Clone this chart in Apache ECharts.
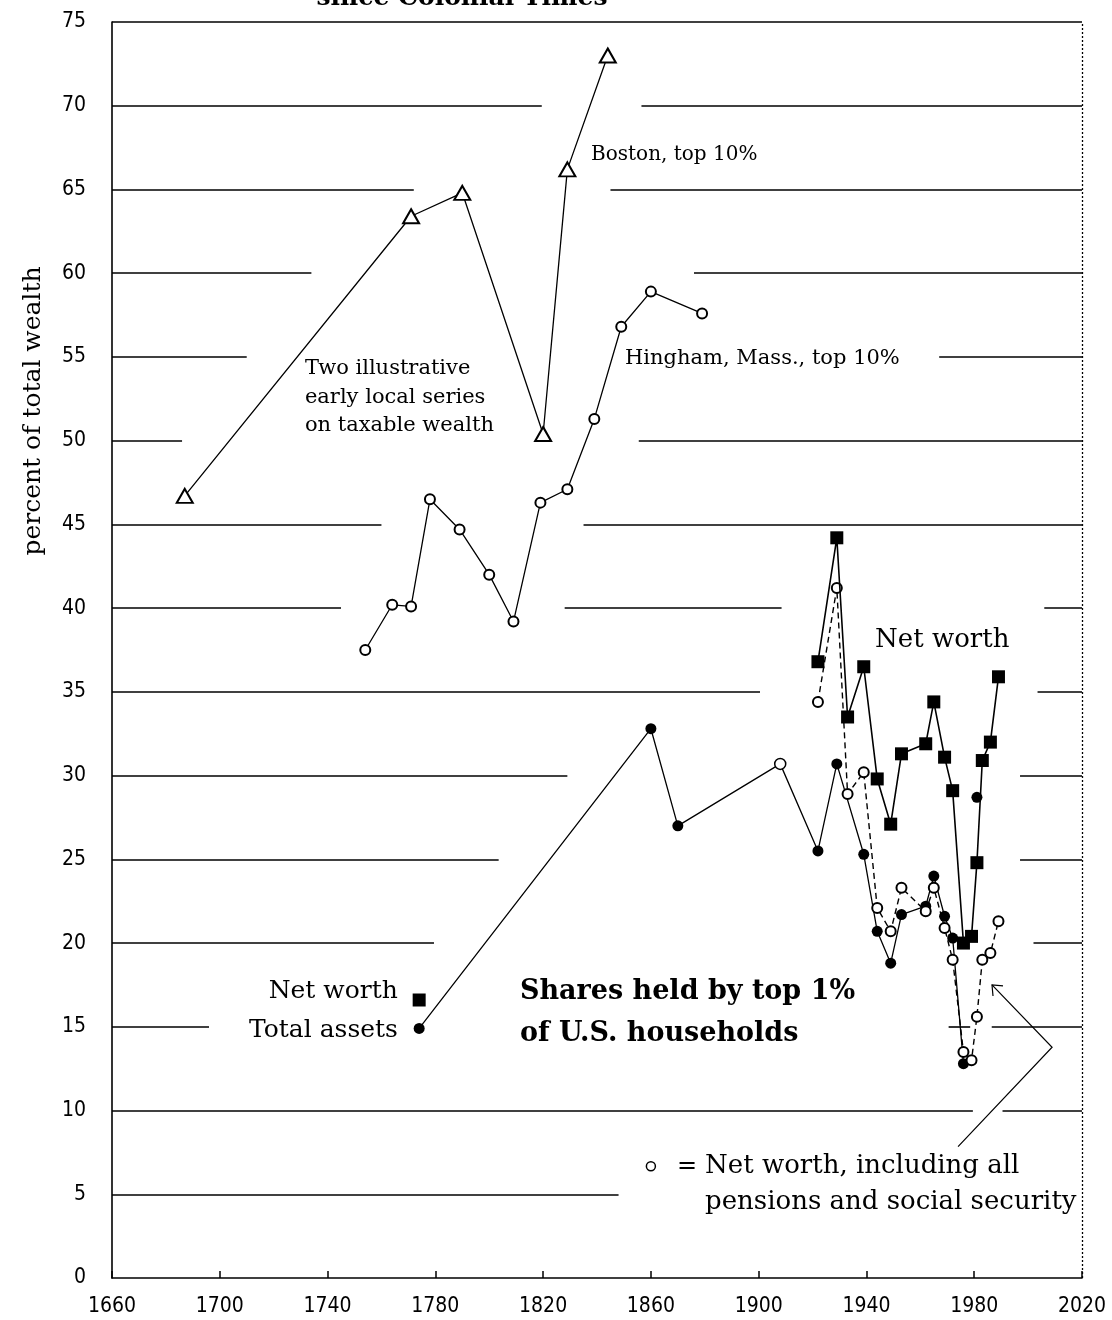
<!DOCTYPE html>
<html><head><meta charset="utf-8">
<script src="https://cdn.jsdelivr.net/npm/echarts/dist/echarts.min.js"></script>
<style>html,body{margin:0;padding:0;background:#fff}#c{width:1112px;height:1320px}</style>
</head><body><div id="c"></div>
<script>
// ---- data ----
const xTicks = [1660, 1700, 1740, 1780, 1820, 1860, 1900, 1940, 1980, 2020];
const yTicks = [0, 5, 10, 15, 20, 25, 30, 35, 40, 45, 50, 55, 60, 65, 70, 75];

const bostonYears = [1687, 1771, 1790, 1820, 1829, 1844];
const bostonTop10 = [46.7, 63.4, 64.8, 50.4, 66.2, 73.0];

const hinghamYears = [1754, 1764, 1771, 1778, 1789, 1800, 1809, 1819, 1829, 1839, 1849, 1860, 1879];
const hinghamTop10 = [37.5, 40.2, 40.1, 46.5, 44.7, 42.0, 39.2, 46.3, 47.1, 51.3, 56.8, 58.9, 57.6];

const colonialYear = 1774;
const colonialNetWorth = 16.6;

const netWorthYears = [1922, 1929, 1933, 1939, 1944, 1949, 1953, 1962, 1965, 1969, 1972, 1976, 1979, 1981, 1983, 1986, 1989];
const netWorthTop1 = [36.8, 44.2, 33.5, 36.5, 29.8, 27.1, 31.3, 31.9, 34.4, 31.1, 29.1, 20.0, 20.4, 24.8, 30.9, 32.0, 35.9];

const assetsYears = [1774, 1860, 1870, 1908, 1922, 1929, 1939, 1944, 1949, 1953, 1962, 1965, 1969, 1972, 1976];
const assetsTop1 = [14.9, 32.8, 27.0, 30.7, 25.5, 30.7, 25.3, 20.7, 18.8, 21.7, 22.2, 24.0, 21.6, 20.3, 12.8];
const assetsOpenYear = 1908;      // drawn with a hollow marker
const assetsLoneYear = 1981;
const assetsLoneValue = 28.7;

const pensionYears = [1922, 1929, 1933, 1939, 1944, 1949, 1953, 1962, 1965, 1969, 1972, 1976, 1979, 1981, 1983, 1986, 1989];
const pensionTop1 = [34.4, 41.2, 28.9, 30.2, 22.1, 20.7, 23.3, 21.9, 23.3, 20.9, 19.0, 13.5, 13.0, 15.6, 19.0, 19.4, 21.3];

// horizontal rules: [level, fromYear, toYear] (the picture breaks them around labels and data)
const ruleSegments = [
  [75, 1660, 2020],
  [70, 1660, 1819.5], [70, 1856.5, 2020],
  [65, 1660, 1772], [65, 1845, 2020],
  [60, 1660, 1734], [60, 1876, 2020],
  [55, 1660, 1710], [55, 1967, 2020],
  [50, 1660, 1686], [50, 1855.5, 2020],
  [45, 1660, 1760], [45, 1835, 2020],
  [40, 1660, 1745], [40, 1828, 1908.5], [40, 2006, 2020],
  [35, 1660, 1900.5], [35, 2003.5, 2020],
  [30, 1660, 1829], [30, 1997, 2020],
  [25, 1660, 1803.5], [25, 1997, 2020],
  [20, 1660, 1779.5], [20, 2002, 2020],
  [15, 1660, 1696], [15, 1970.5, 1978.5], [15, 1986.5, 2020],
  [10, 1660, 1979.5], [10, 1990.5, 2020],
  [5, 1660, 1848]
];

// ---- build ----
const zip = (xs, ys) => xs.map((x, i) => [x, ys[i]]);
const serif = '"DejaVu Serif", "Liberation Serif", serif';
const narrow = '"Liberation Sans Narrow", "DejaVu Sans Condensed", sans-serif';
const BLACK = '#000';

const assetsData = zip(assetsYears, assetsTop1).map(p => p[0] === assetsOpenYear
  ? { value: p, itemStyle: { color: '#fff', borderColor: BLACK, borderWidth: 1.5 } }
  : p);
assetsData.push('-', [assetsLoneYear, assetsLoneValue]);

const netWorthData = [[colonialYear, colonialNetWorth], '-'].concat(zip(netWorthYears, netWorthTop1));

const ruleLines = ruleSegments.map(s => [{ coord: [s[1], s[0]] }, { coord: [s[2], s[0]] }]);
ruleLines.push([{ coord: [2020, 0], lineStyle: { type: [2, 2], width: 1.3 } }, { coord: [2020, 75] }]);

const chart = echarts.init(document.getElementById('c'), null, { renderer: 'canvas' });

const option = {
  animation: false,
  backgroundColor: '#fff',
  grid: { left: 112, right: 30, top: 22, bottom: 42 },
  xAxis: {
    type: 'value', min: xTicks[0], max: xTicks[xTicks.length - 1], interval: 40,
    axisLine: { show: true, onZero: false, lineStyle: { color: BLACK, width: 1.6 } },
    axisTick: { show: true, inside: true, length: 7, lineStyle: { color: BLACK, width: 1.5 } },
    axisLabel: { color: BLACK, fontSize: 21, margin: 18, fontFamily: narrow, formatter: v => String(v) },
    splitLine: { show: false }
  },
  yAxis: {
    type: 'value', min: yTicks[0], max: yTicks[yTicks.length - 1], interval: 5,
    axisLine: { show: true, lineStyle: { color: BLACK, width: 1.6 } },
    axisTick: { show: false },
    axisLabel: { color: BLACK, fontSize: 21, margin: 26, fontFamily: narrow, formatter: v => String(v) },
    splitLine: { show: false }
  },
  series: [
    {
      type: 'line', data: [], z: 1, silent: true,
      markLine: { silent: true, symbol: 'none', label: { show: false },
        lineStyle: { color: BLACK, width: 1.6, type: 'solid' }, data: ruleLines }
    },
    {
      name: 'Boston, top 10%', type: 'line', z: 3, data: zip(bostonYears, bostonTop10),
      symbol: 'emptyTriangle', symbolSize: [16, 14],
      lineStyle: { color: BLACK, width: 1.3 }, itemStyle: { color: BLACK, borderWidth: 1.6 }
    },
    {
      name: 'Hingham, Mass., top 10%', type: 'line', z: 3, data: zip(hinghamYears, hinghamTop10),
      symbol: 'emptyCircle', symbolSize: 10,
      lineStyle: { color: BLACK, width: 1.3 }, itemStyle: { color: BLACK, borderWidth: 1.5 }
    },
    {
      name: 'Total assets', type: 'line', z: 3, data: assetsData, connectNulls: false,
      symbol: 'circle', symbolSize: 11,
      lineStyle: { color: BLACK, width: 1.3 }, itemStyle: { color: BLACK }
    },
    {
      name: 'Net worth incl. pensions', type: 'line', z: 4, data: zip(pensionYears, pensionTop1),
      symbol: 'emptyCircle', symbolSize: 10,
      lineStyle: { color: BLACK, width: 1.4, type: [6, 4] }, itemStyle: { color: BLACK, borderWidth: 1.5 }
    },
    {
      name: 'Net worth', type: 'line', z: 5, data: netWorthData, connectNulls: false,
      symbol: 'rect', symbolSize: 13,
      lineStyle: { color: BLACK, width: 1.6 }, itemStyle: { color: BLACK }
    }
  ]
};
chart.setOption(option);

// annotations anchored in data space so they keep their place against rules and marks
const P = (x, y) => chart.convertToPixel({ gridIndex: 0 }, [x, y]);
const txtAt = (text, x, y, font, align, vAlign) => {
  const p = P(x, y);
  return { type: 'text', x: p[0], y: p[1], silent: true, z: 20,
    style: { text: text, fill: BLACK, font: font, textAlign: align || 'left', textVerticalAlign: vAlign || 'middle' } };
};
const arrowPts = [P(1974.0, 7.84), P(2008.9, 13.78), P(1986.6, 17.5)];
const tip = arrowPts[2];
const keyDot = P(1860.0, 6.67);

chart.setOption({
  graphic: [
    { type: 'text', x: 462, y: 11, silent: true, z: 20,
      style: { text: 'since Colonial Times', fill: BLACK, font: 'bold 25px ' + serif, textAlign: 'center', textVerticalAlign: 'bottom' } },
    { type: 'text', x: 33, y: 411, rotation: Math.PI / 2, silent: true,
      style: { text: 'percent of total wealth', fill: BLACK, font: '25px ' + serif, textAlign: 'center', textVerticalAlign: 'middle' } },
    txtAt('Boston, top 10%', 1837.8, 67.1, '20px ' + serif),
    txtAt('Hingham, Mass., top 10%', 1850.4, 54.9, '21px ' + serif),
    txtAt('Two illustrative', 1731.6, 54.3, '21px ' + serif),
    txtAt('early local series', 1731.6, 52.6, '21px ' + serif),
    txtAt('on taxable wealth', 1731.6, 50.9, '21px ' + serif),
    txtAt('Net worth', 1943.2, 38.1, '26px ' + serif),
    txtAt('Net worth', 1766.1, 17.1, '25px ' + serif, 'right'),
    txtAt('Total assets', 1766.1, 14.76, '25px ' + serif, 'right'),
    txtAt('Shares held by top 1%', 1811.4, 17.1, 'bold 27px ' + serif),
    txtAt('of U.S. households', 1811.4, 14.6, 'bold 27px ' + serif),
    { type: 'circle', shape: { cx: keyDot[0], cy: keyDot[1], r: 4.5 }, style: { fill: '#fff', stroke: BLACK, lineWidth: 1.5 }, z: 20 },
    txtAt('=', 1869.7, 6.67, '24px ' + serif),
    txtAt('Net worth, including all', 1880.1, 6.67, '26px ' + serif),
    txtAt('pensions and social security', 1880.1, 4.5, '26px ' + serif),
    { type: 'polyline', shape: { points: arrowPts }, style: { stroke: BLACK, lineWidth: 1.2, fill: null }, z: 20 },
    { type: 'polyline', shape: { points: [[tip[0] + 11, tip[1] + 1], tip, [tip[0] + 1, tip[1] + 11]] }, style: { stroke: BLACK, lineWidth: 1.2, fill: null }, z: 20 }
  ]
});
</script></body></html>
